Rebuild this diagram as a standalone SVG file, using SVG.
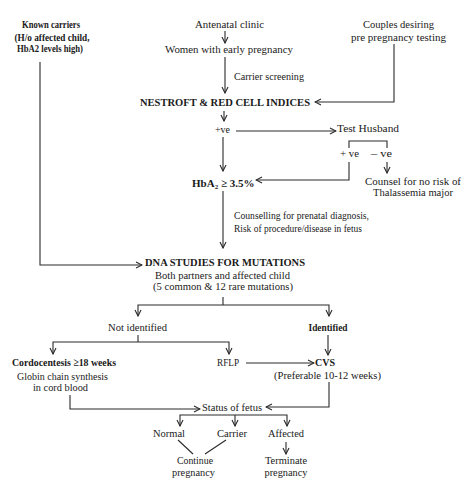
<svg xmlns="http://www.w3.org/2000/svg" width="462" height="490" viewBox="0 0 462 490">
<style>
text{font-family:"Liberation Serif","Times New Roman",serif;font-size:11px;fill:#1a1a1a}
.b{font-weight:bold}
.m{text-anchor:middle}
.c{fill:none;stroke:#2a2a2a;stroke-width:1.1}
.a{marker-end:url(#ar)}
</style>
<defs>
<marker id="ar" viewBox="0 0 8 8" refX="7" refY="4" markerWidth="8" markerHeight="8" markerUnits="userSpaceOnUse" orient="auto">
<path d="M1,1 L7,4 L1,7" fill="none" stroke="#2a2a2a" stroke-width="1.1"/>
</marker>
</defs>
<rect width="462" height="490" fill="#fff"/>
<g id="connectors">
<path class="c a" d="M225,31 V43"/>
<path class="c a" d="M225,57 V93"/>
<path class="c a" d="M394,44 V102 H315"/>
<path class="c a" d="M224,111 V121"/>
<path class="c a" d="M236,131 H336"/>
<path class="c a" d="M223,137 V171"/>
<path class="c" d="M349,148 V141 H387 V148"/>
<path class="c a" d="M349,162 V180 H256"/>
<path class="c a" d="M387,162 V173"/>
<path class="c a" d="M223,191 V248"/>
<path class="c a" d="M40,62 V265 H142"/>
<path class="c" d="M223,297 V305"/>
<path class="c a" d="M223,305 H138 V316"/>
<path class="c a" d="M223,305 H329 V316"/>
<path class="c" d="M138,335 V342"/>
<path class="c a" d="M138,342 H53 V354"/>
<path class="c a" d="M138,342 H229 V354"/>
<path class="c a" d="M328,335 V355"/>
<path class="c a" d="M246,363 H314"/>
<path class="c a" d="M70,395 V409 H200"/>
<path class="c a" d="M329,382 V407 H266"/>
<path class="c a" d="M232,415 H180 V426"/>
<path class="c a" d="M232,415 H287 V426"/>
<path class="c a" d="M235,415 V426"/>
<path class="c" d="M178,440 L193,454"/>
<path class="c" d="M226,440 L205,454"/>
<path class="c a" d="M286,442 V454"/>
</g>
<g id="known-carriers">
<text class="m b" x="51" y="28" textLength="58" lengthAdjust="spacingAndGlyphs" style="font-size:10px">Known carriers</text>
<text class="m b" x="52" y="41" textLength="75" lengthAdjust="spacingAndGlyphs" style="font-size:10px">(H/o affected child,</text>
<text class="m b" x="50" y="52" textLength="66" lengthAdjust="spacingAndGlyphs" style="font-size:10px">HbA2 levels high)</text>
</g>
<g id="antenatal">
<text class="m" x="229.5" y="28" textLength="69" lengthAdjust="spacingAndGlyphs">Antenatal clinic</text>
</g>
<g id="women">
<text class="m" x="229" y="53" textLength="128" lengthAdjust="spacingAndGlyphs">Women with early pregnancy</text>
</g>
<g id="couples">
<text class="m" x="398.5" y="28" textLength="71" lengthAdjust="spacingAndGlyphs">Couples desiring</text>
<text class="m" x="398.5" y="41" textLength="95" lengthAdjust="spacingAndGlyphs">pre pregnancy testing</text>
</g>
<g id="carrier-screening">
<text x="234" y="80" textLength="70" lengthAdjust="spacingAndGlyphs">Carrier screening</text>
</g>
<g id="nestroft">
<text class="b" x="140" y="106" textLength="170" lengthAdjust="spacingAndGlyphs">NESTROFT &amp; RED CELL INDICES</text>
</g>
<g id="positive">
<text class="m" x="222.5" y="133" textLength="15" lengthAdjust="spacingAndGlyphs">+ve</text>
</g>
<g id="test-husband">
<text x="337" y="132" textLength="62" lengthAdjust="spacingAndGlyphs">Test Husband</text>
</g>
<g id="husband-pos">
<text x="340" y="157" textLength="19" lengthAdjust="spacingAndGlyphs">+ ve</text>
</g>
<g id="husband-neg">
<text x="371" y="157" textLength="21" lengthAdjust="spacingAndGlyphs">– ve</text>
</g>
<g id="hba2">
<text class="b" x="192" y="187">HbA<tspan dy="2" style="font-size:7px">2</tspan><tspan dy="-2"> ≥ 3.5%</tspan></text>
</g>
<g id="counsel-no-risk">
<text x="365" y="185" textLength="96" lengthAdjust="spacingAndGlyphs">Counsel for no risk of</text>
<text class="m" x="413" y="196" textLength="80" lengthAdjust="spacingAndGlyphs">Thalassemia major</text>
</g>
<g id="counselling">
<text x="234" y="219" textLength="135" lengthAdjust="spacingAndGlyphs">Counselling for prenatal diagnosis,</text>
<text x="234" y="232" textLength="128" lengthAdjust="spacingAndGlyphs">Risk of procedure/disease in fetus</text>
</g>
<g id="dna">
<text class="b" x="145" y="266" textLength="160" lengthAdjust="spacingAndGlyphs">DNA STUDIES FOR MUTATIONS</text>
<text class="m" x="222.5" y="279" textLength="135" lengthAdjust="spacingAndGlyphs">Both partners and affected child</text>
<text class="m" x="223" y="290" textLength="140" lengthAdjust="spacingAndGlyphs">(5 common &amp; 12 rare mutations)</text>
</g>
<g id="not-identified">
<text class="m" x="137.5" y="331" textLength="59" lengthAdjust="spacingAndGlyphs">Not identified</text>
</g>
<g id="identified">
<text class="m b" x="328" y="331" textLength="39" lengthAdjust="spacingAndGlyphs">Identified</text>
</g>
<g id="cordocentesis">
<text class="b" x="12" y="366" textLength="104" lengthAdjust="spacingAndGlyphs">Cordocentesis ≥18 weeks</text>
<text class="m" x="62.5" y="380" textLength="91" lengthAdjust="spacingAndGlyphs">Globin chain synthesis</text>
<text class="m" x="60.5" y="391" textLength="55" lengthAdjust="spacingAndGlyphs">in cord blood</text>
</g>
<g id="rflp">
<text x="217" y="366" textLength="22" lengthAdjust="spacingAndGlyphs">RFLP</text>
</g>
<g id="cvs">
<text class="b" x="315" y="366" textLength="20" lengthAdjust="spacingAndGlyphs">CVS</text>
<text class="m" x="327.5" y="379" textLength="107" lengthAdjust="spacingAndGlyphs">(Preferable 10-12 weeks)</text>
</g>
<g id="status">
<text class="m" x="232" y="411" textLength="60" lengthAdjust="spacingAndGlyphs">Status of fetus</text>
</g>
<g id="normal">
<text class="m" x="169" y="437" textLength="32" lengthAdjust="spacingAndGlyphs">Normal</text>
</g>
<g id="carrier">
<text class="m" x="232" y="437" textLength="30" lengthAdjust="spacingAndGlyphs">Carrier</text>
</g>
<g id="affected">
<text class="m" x="286" y="437" textLength="36" lengthAdjust="spacingAndGlyphs">Affected</text>
</g>
<g id="continue">
<text class="m" x="195" y="464" textLength="36" lengthAdjust="spacingAndGlyphs">Continue</text>
<text class="m" x="193.5" y="476" textLength="43" lengthAdjust="spacingAndGlyphs">pregnancy</text>
</g>
<g id="terminate">
<text class="m" x="286" y="464" textLength="42" lengthAdjust="spacingAndGlyphs">Terminate</text>
<text class="m" x="286" y="476" textLength="43" lengthAdjust="spacingAndGlyphs">pregnancy</text>
</g>
</svg>
